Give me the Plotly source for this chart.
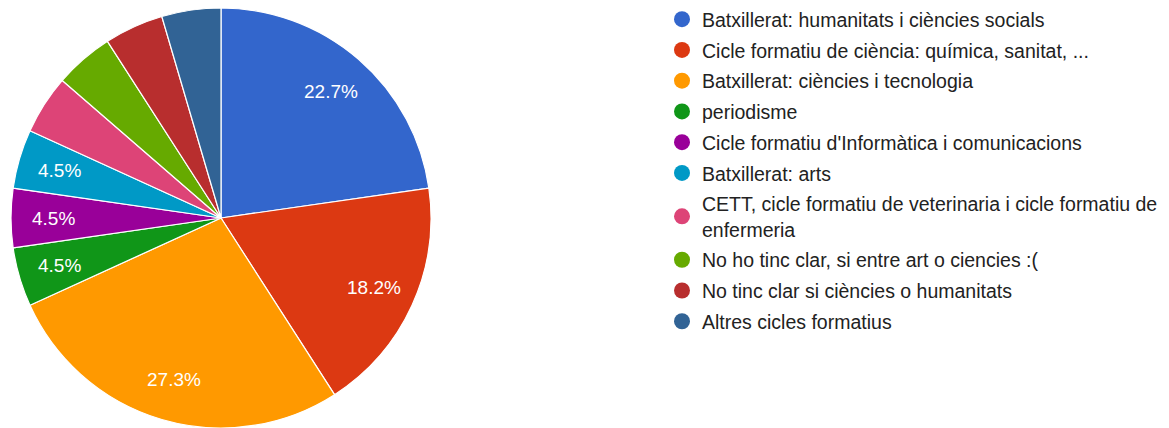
import math
import plotly.graph_objects as go

categories = [
    "Batxillerat: humanitats i ciències socials",
    "Cicle formatiu de ciència: química, sanitat, ...",
    "Batxillerat: ciències i tecnologia",
    "periodisme",
    "Cicle formatiu d'Informàtica i comunicacions",
    "Batxillerat: arts",
    "CETT, cicle formatiu de veterinaria i cicle formatiu de<br>enfermeria",
    "No ho tinc clar, si entre art o ciencies :(",
    "No tinc clar si ciències o humanitats",
    "Altres cicles formatius",
]
counts = [5, 4, 6, 1, 1, 1, 1, 1, 1, 1]
show_label = [True, True, True, True, True, True, False, False, False, False]
colors = ["#3366cc", "#dc3912", "#ff9900", "#109618", "#990099",
          "#0099c6", "#dd4477", "#66aa00", "#b82e2e", "#316395"]

total = sum(counts)

W, H = 1169, 428
FONT = "Liberation Sans, Arial, sans-serif"

# pie geometry in figure pixels
CX, CY, R = 221.0, 218.0, 210.0
dom_x = [(CX - R) / W, (CX + R) / W]
dom_y = [max(0.0, (H - CY - R) / H), min(1.0, (H - CY + R) / H)]

fig = go.Figure()
fig.add_trace(go.Pie(
    labels=categories,
    values=counts,
    textinfo="none",
    marker=dict(colors=colors, line=dict(color="white", width=1.2)),
    sort=False,
    direction="clockwise",
    rotation=0,
    showlegend=False,
    hoverinfo="label+percent",
    domain=dict(x=dom_x, y=dom_y),
))

# percentage labels along each slice bisector (Google Charts style)
annotations = []
cum = 0
for c, s in zip(counts, show_label):
    mid = (cum + c / 2) / total * 2 * math.pi
    cum += c
    if not s:
        continue
    r = 0.8 * R
    px = CX + r * math.sin(mid)
    py = CY - r * math.cos(mid)
    annotations.append(dict(
        x=px / W, y=(H - py) / H, xref="paper", yref="paper",
        text=f"{100 * c / total:.1f}%", showarrow=False,
        xanchor="center", yanchor="middle",
        font=dict(color="white", size=19, family=FONT),
    ))

for i, (cat, col) in enumerate(zip(categories, colors)):
    fig.add_trace(go.Scatter(
        x=[None], y=[None], mode="markers", name=cat,
        marker=dict(symbol="circle", size=16, color=col),
        legendgroup=f"g{i}", showlegend=True, hoverinfo="skip",
    ))

fig.update_layout(
    width=W, height=H,
    margin=dict(l=0, r=0, t=0, b=0),
    paper_bgcolor="white", plot_bgcolor="white",
    xaxis=dict(visible=False), yaxis=dict(visible=False),
    annotations=annotations,
    legend=dict(
        x=662 / W, xanchor="left", y=1.0, yanchor="top",
        font=dict(family=FONT, size=19.5, color="#222222"),
        tracegroupgap=2.4, itemwidth=30,
        bgcolor="rgba(0,0,0,0)",
    ),
    font=dict(family=FONT),
)

fig.write_html("out.html", config={"displayModeBar": False},
               post_script="document.body.style.margin='0';")
